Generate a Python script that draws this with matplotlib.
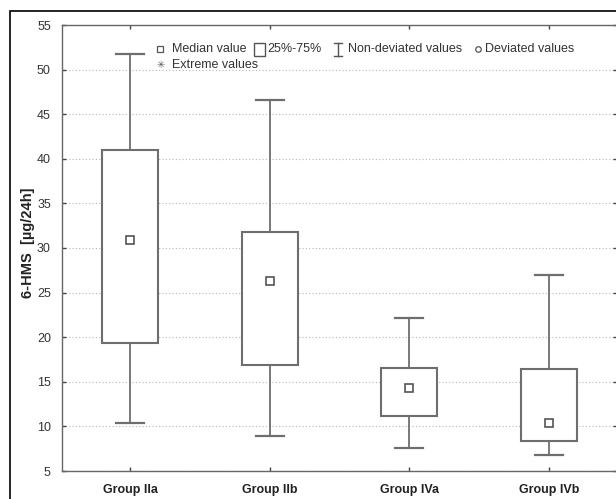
import matplotlib
matplotlib.use("Agg")
import matplotlib.pyplot as plt
from matplotlib.patches import Rectangle
from matplotlib.lines import Line2D

# Summary statistics of 6-HMS excretion per group
groups = ["Group IIa", "Group IIb", "Group IVa", "Group IVb"]
whisker_low = [10.4, 8.9, 7.6, 6.8]
q1 = [19.4, 16.9, 11.2, 8.4]
median = [30.9, 26.3, 14.3, 10.4]
q3 = [41.0, 31.8, 16.5, 16.4]
whisker_high = [51.8, 46.6, 22.2, 27.0]
y_ticks = [5, 10, 15, 20, 25, 30, 35, 40, 45, 50, 55]

W, H = 616, 499
plt.rcParams["font.family"] = ["Liberation Sans", "DejaVu Sans"]

fig = plt.figure(figsize=(W / 100, H / 100), dpi=100)
fig.patch.set_facecolor("white")


def fx(px):
    return px / W


def fy(py):
    return 1 - py / H


ax = fig.add_axes([fx(62), fy(471), fx(616) - fx(62) + 0.002, fy(25) - fy(471)])

positions = list(range(len(groups)))
stats = []
for i, name in enumerate(groups):
    stats.append(dict(label=name, med=median[i], q1=q1[i], q3=q3[i],
                      whislo=whisker_low[i], whishi=whisker_high[i], fliers=[]))

line_col = "#6e6e6e"
ax.bxp(stats, positions=positions, widths=0.4, capwidths=0.2,
       patch_artist=True, showfliers=False,
       boxprops=dict(facecolor="white", edgecolor=line_col, linewidth=1.5),
       whiskerprops=dict(color=line_col, linewidth=1.3),
       capprops=dict(color=line_col, linewidth=1.6),
       medianprops=dict(linewidth=0))
ax.plot(positions, median, linestyle="none", marker="s", markersize=5.5,
        markerfacecolor="white", markeredgecolor="#555555", markeredgewidth=1.2,
        zorder=5)

ax.set_xlim(-0.49, 3.49)
ax.set_ylim(5, 55)
ax.set_yticks(y_ticks)
ax.set_xticks(positions)
ax.set_xticklabels(groups, fontweight="bold", fontsize=9, color="#222222")
ax.tick_params(axis="y", labelsize=9, labelcolor="#333333")
ax.tick_params(direction="in", length=3, width=1, color="#444444",
               top=True, right=True)
ax.tick_params(axis="y", pad=8)
ax.tick_params(axis="x", pad=9)

ax.yaxis.grid(True, linestyle=(0, (1, 2)), color="#b5b5b5", linewidth=0.8)
ax.set_axisbelow(True)
for s in ax.spines.values():
    s.set_color("#666666")
    s.set_linewidth(1.0)

# Axis title placed beside the tick labels
fig.text(fx(28), fy(243), "6-HMS  [µg/24h]", rotation=90, fontsize=10.5,
         fontweight="bold", color="#222222", ha="center", va="center")

# Legend drawn as a row of symbols and captions
leg_kw = dict(fontsize=9, color="#333333", va="center", ha="left")
y1, y2 = 49, 65
fig.add_artist(Line2D([fx(160)], [fy(y1)], marker="s", markersize=4.5,
                      markerfacecolor="white", markeredgecolor="#555555",
                      markeredgewidth=0.9, linestyle="none"))
fig.text(fx(172), fy(y1), "Median value", **leg_kw)
fig.add_artist(Rectangle((fx(254), fy(56)), fx(265) - fx(254), fy(43) - fy(56),
                         transform=fig.transFigure, facecolor="white",
                         edgecolor="#555555", linewidth=1.0))
fig.text(fx(267), fy(y1), "25%-75%", **leg_kw)
# whisker glyph
fig.add_artist(Line2D([fx(334), fx(342)], [fy(43), fy(43)], color="#555555", lw=1))
fig.add_artist(Line2D([fx(334), fx(342)], [fy(56), fy(56)], color="#555555", lw=1))
fig.add_artist(Line2D([fx(338), fx(338)], [fy(43), fy(56)], color="#555555", lw=1))
fig.text(fx(348), fy(y1), "Non-deviated values", **leg_kw)
fig.add_artist(Line2D([fx(478)], [fy(y1)], marker="o", markersize=4,
                      markerfacecolor="white", markeredgecolor="#555555",
                      markeredgewidth=0.9, linestyle="none"))
fig.text(fx(485), fy(y1), "Deviated values", **leg_kw)
fig.text(fx(156), fy(y2), "✳", fontsize=7, color="#555555", va="center",
         ha="left", family=["DejaVu Sans"])
fig.text(fx(172), fy(y2), "Extreme values", **leg_kw)

# Outer frame around the whole graphic
fig.add_artist(Rectangle((fx(10), fy(520)), fx(640) - fx(10), fy(11) - fy(520),
                         transform=fig.transFigure, facecolor="none",
                         edgecolor="black", linewidth=1.2))

fig.savefig("out.png", dpi=100, facecolor="white")
